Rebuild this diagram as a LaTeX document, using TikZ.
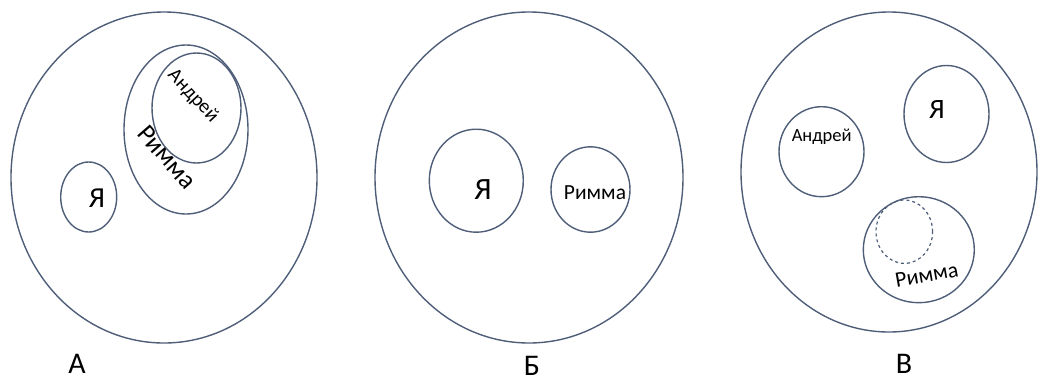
\documentclass[tikz,border=0pt]{standalone}
\usepackage{fontspec}
\setmainfont{Carlito}
\usetikzlibrary{shapes.geometric}
\definecolor{ln}{RGB}{78,94,120}
\tikzset{
  ring/.style={ellipse,draw=ln,line width=1.4pt,inner sep=0pt},
  lbl/.style={inner sep=0pt,text=black},
  fs/.style={font=\fontsize{#1}{#1}\selectfont},
}
\begin{document}
\begin{tikzpicture}[x=1pt,y=-1pt]
\useasboundingbox (0,0) rectangle (1039,378);
% Panel A
\node[ring,minimum width=306pt,minimum height=331pt] (Aout) at (164,177.5) {};
\node[ring,minimum width=56pt,minimum height=70pt] (Aya) at (88.7,197) {};
\node[ring,minimum width=124pt,minimum height=169pt] (Arim) at (186,129.5) {};
\node[ring,minimum width=89pt,minimum height=110pt] (Aand) at (196.5,108) {};
\node[lbl,fs=29] (Tya1) at (97,198) {Я};
\node[lbl,rotate=-47,fs=20] (Tand1) at (193,96) {Андрей};
\node[lbl,rotate=-49,fs=26] (Trim1) at (167,157) {Римма};
\node[lbl,fs=30] (LA) at (77,364) {А};
% Panel B
\node[ring,minimum width=308pt,minimum height=331pt] (Bout) at (529,177.5) {};
\node[ring,minimum width=94pt,minimum height=103pt] (Bya) at (476.3,180.7) {};
\node[ring,minimum width=79pt,minimum height=85.4pt] (Brim) at (590.5,189.5) {};
\node[lbl,fs=31] (Tya2) at (483,190) {Я};
\node[lbl,fs=21.5] (Trim2) at (595,192.7) {Римма};
\node[lbl,fs=30] (LB) at (532,366) {Б};
% Panel C
\node[ring,minimum width=296pt,minimum height=320pt] (Cout) at (889,172) {};
\node[ring,minimum width=85pt,minimum height=90pt] (Cand) at (821.5,151.7) {};
\node[ring,minimum width=85pt,minimum height=97pt] (Cya) at (946.5,114) {};
\node[ring,minimum width=111pt,minimum height=106pt] (Crim) at (918.8,249.7) {};
\node[ring,dashed,line width=1.2pt,minimum width=56.6pt,minimum height=63.4pt] (Cdash) at (904.3,231.7) {};
\node[lbl,fs=18.5] (Tand3) at (821.7,136.7) {Андрей};
\node[lbl,fs=28] (Tya3) at (937,110) {Я};
\node[lbl,rotate=10,fs=22] (Trim3) at (926.7,275) {Римма};
\node[lbl,fs=30] (LC) at (904,364) {В};
\end{tikzpicture}
\end{document}
